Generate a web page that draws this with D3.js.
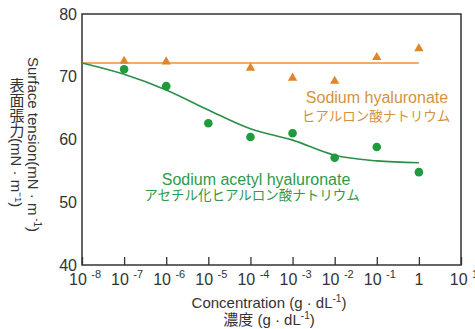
<!DOCTYPE html>
<html>
<head>
<meta charset="utf-8">
<script src="https://cdn.jsdelivr.net/npm/d3@7"></script>
<style>
  body { margin: 0; background: #fff; }
  text { font-family: "Liberation Sans", Arial, "Noto Sans CJK JP", sans-serif; }
</style>
</head>
<body>
<svg id="chart"></svg>
<script>
// concentrations (g/dL), one per decade
var conc = [1e-7, 1e-6, 1e-5, 1e-4, 1e-3, 1e-2, 1e-1, 1]
// sodium hyaluronate (triangles), no point at 1e-5
var naHA = [72.5, 72.4, null, 71.4, 69.8, 69.3, 73.1, 74.5]
var naHALevel = 72.2
// sodium acetyl hyaluronate (circles)
var acHA = [71.2, 68.5, 62.6, 60.4, 61.0, 57.1, 58.8, 54.8]
// fitted curve for acetyl hyaluronate
var fitConc = [1e-8, 1e-7, 1e-6, 1e-5, 1e-4, 1e-3, 1e-2, 1e-1, 1]
var fitVal = [72.2, 70.4, 67.9, 64.7, 61.7, 59.9, 57.5, 56.6, 56.3]
var xTicks = [1e-8, 1e-7, 1e-6, 1e-5, 1e-4, 1e-3, 1e-2, 1e-1, 1, 10]
var xExp = ["-8", "-7", "-6", "-5", "-4", "-3", "-2", "-1", null, "1"]
var yTicks = [40, 50, 60, 70, 80]

var W = 475, H = 329
var pLeft = 82, pRight = 461, pTop = 14, pBottom = 265
var orange = "#e0862a", green = "#1f9a3c"

var svg = d3.select("#chart").attr("width", W).attr("height", H)

var x = d3.scaleLog().domain([1e-8, 10]).range([pLeft, pRight])
var y = d3.scaleLinear().domain([40, 80]).range([pBottom, pTop])

// tick marks inside, from the bottom
var xAxis = d3.axisBottom(x).tickValues(xTicks).tickSizeInner(-8).tickSizeOuter(0).tickFormat("")
svg.append("g")
  .attr("transform", "translate(0," + pBottom + ")")
  .call(xAxis)
  .call(function (g) { g.select(".domain").remove() })
  .selectAll("line").attr("stroke", "#333").attr("stroke-width", 1.3)

// x tick labels with superscripts
xTicks.forEach(function (v, i) {
  var t = svg.append("text")
    .attr("x", x(v) + (xExp[i] ? 3 : 0))
    .attr("y", 285)
    .attr("text-anchor", "middle")
    .attr("font-size", 16)
    .attr("fill", "#333")
  if (xExp[i]) {
    t.append("tspan").text("10 ")
    t.append("tspan").attr("font-size", 11).attr("dy", -7).text(xExp[i])
  } else {
    t.text("1")
  }
})

var yAxis = d3.axisLeft(y).tickValues(yTicks).tickSize(0).tickPadding(5)
svg.append("g")
  .attr("transform", "translate(" + pLeft + ",0)")
  .call(yAxis)
  .call(function (g) { g.select(".domain").remove() })
  .selectAll("text")
  .attr("font-size", 16)
  .attr("fill", "#333")
  .attr("font-family", "Liberation Sans, Arial, sans-serif")

// frame
svg.append("rect")
  .attr("x", pLeft).attr("y", pTop)
  .attr("width", pRight - pLeft).attr("height", pBottom - pTop)
  .attr("fill", "none").attr("stroke", "#333").attr("stroke-width", 1.5)

// sodium hyaluronate level line
svg.append("line")
  .attr("x1", x(1e-8)).attr("x2", x(1))
  .attr("y1", y(naHALevel)).attr("y2", y(naHALevel))
  .attr("stroke", "#e8923a").attr("stroke-width", 1.6)

// acetyl fit curve
var line = d3.line()
  .x(function (d, i) { return x(fitConc[i]) })
  .y(function (d) { return y(d) })
  .curve(d3.curveMonotoneX)
svg.append("path")
  .datum(fitVal)
  .attr("d", line)
  .attr("fill", "none")
  .attr("stroke", "#2a8f48")
  .attr("stroke-width", 1.6)

// triangles
var tri = d3.symbol().type(d3.symbolTriangle).size(38)
svg.selectAll(".tri")
  .data(naHA.map(function (v, i) { return [conc[i], v] }).filter(function (d) { return d[1] != null }))
  .enter().append("path")
  .attr("class", "tri")
  .attr("d", tri)
  .attr("transform", function (d) { return "translate(" + x(d[0]) + "," + y(d[1]) + ")" })
  .attr("fill", orange)

// circles
svg.selectAll(".dot")
  .data(acHA)
  .enter().append("circle")
  .attr("class", "dot")
  .attr("cx", function (d, i) { return x(conc[i]) })
  .attr("cy", function (d) { return y(d) })
  .attr("r", 4.3)
  .attr("fill", green)

// series labels
svg.append("text").attr("x", 377).attr("y", 103).attr("text-anchor", "middle")
  .attr("font-size", 16).attr("fill", "#d4923e").text("Sodium hyaluronate")
svg.append("text").attr("x", 376).attr("y", 121).attr("text-anchor", "middle")
  .attr("font-size", 13.5).attr("fill", "#d4923e").text("ヒアルロン酸ナトリウム")
svg.append("text").attr("x", 256).attr("y", 185).attr("text-anchor", "middle")
  .attr("font-size", 16).attr("fill", "#2e9a4a").text("Sodium acetyl hyaluronate")
svg.append("text").attr("x", 252).attr("y", 200).attr("text-anchor", "middle")
  .attr("font-size", 13.5).attr("fill", "#2e9a4a").text("アセチル化ヒアルロン酸ナトリウム")

// x title
var xt = svg.append("text").attr("x", 269).attr("y", 308).attr("text-anchor", "middle")
  .attr("font-size", 15).attr("fill", "#333")
xt.append("tspan").text("Concentration (g · dL")
xt.append("tspan").attr("font-size", 10).attr("dy", -6).text("-1")
xt.append("tspan").attr("dy", 6).text(")")
var xt2 = svg.append("text").attr("x", 269).attr("y", 325).attr("text-anchor", "middle")
  .attr("font-size", 15).attr("fill", "#333")
xt2.append("tspan").text("濃度 (g · dL")
xt2.append("tspan").attr("font-size", 10).attr("dy", -6).text("-1")
xt2.append("tspan").attr("dy", 6).text(")")

// y titles, written vertically
var yt = svg.append("text")
  .attr("transform", "translate(28,57) rotate(90)")
  .attr("font-size", 15).attr("fill", "#333")
yt.append("tspan").text("Surface  tension(mN · m")
yt.append("tspan").attr("font-size", 10).attr("dy", -6).text(" -1")
yt.append("tspan").attr("dy", 6).text(")")

svg.append("text")
  .attr("x", 16).attr("y", 78)
  .style("writing-mode", "vertical-rl")
  .attr("font-size", 15).attr("fill", "#333")
  .text("表面張力(mN · m⁻¹)")
</script>
</body>
</html>
